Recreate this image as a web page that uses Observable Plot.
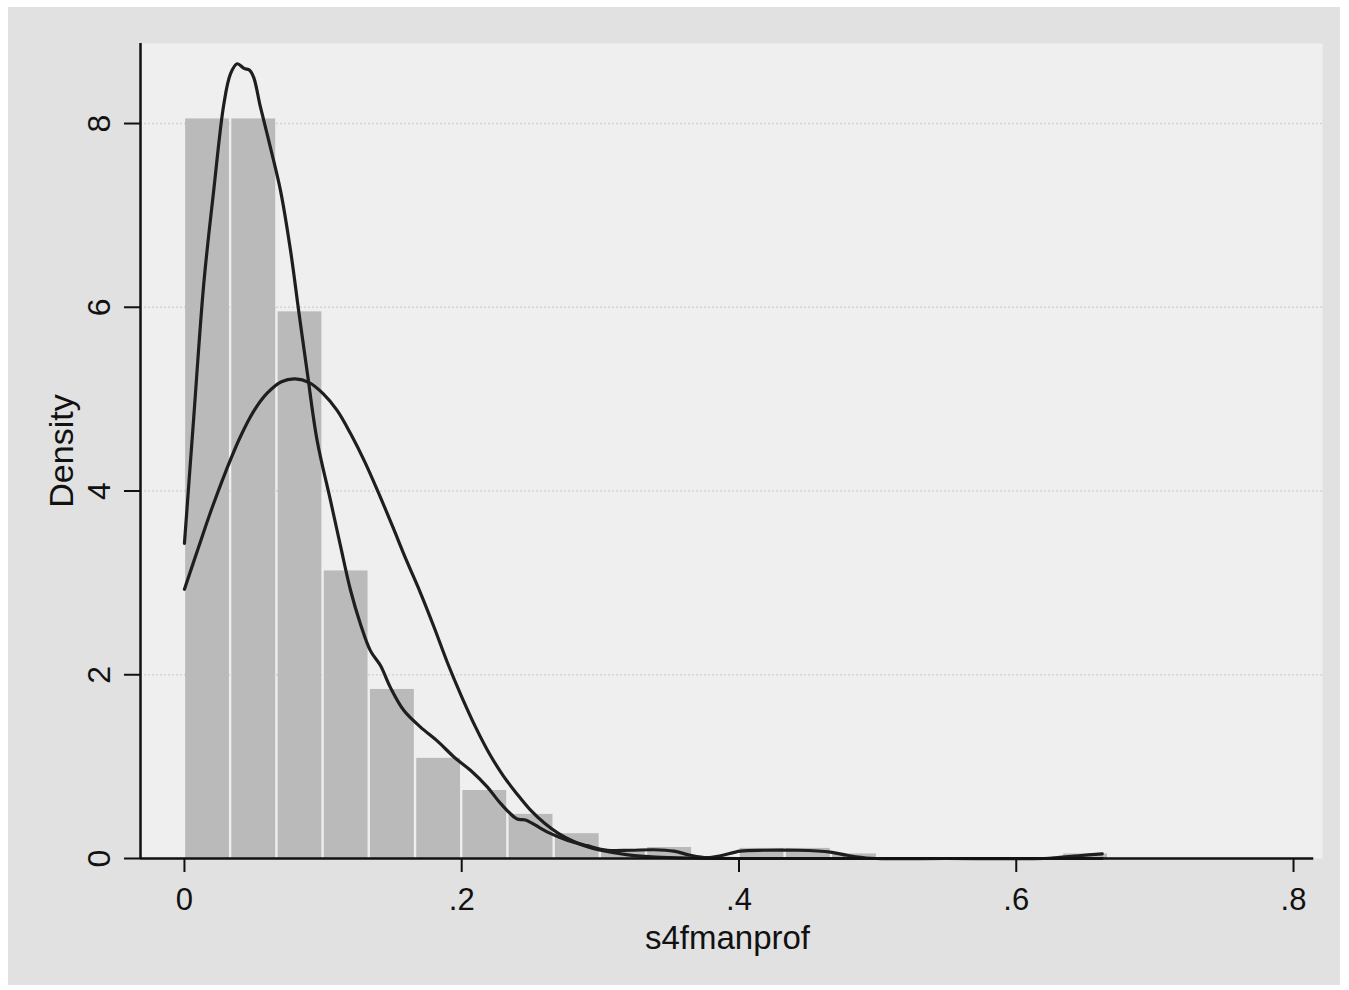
<!DOCTYPE html>
<html>
<head>
<meta charset="utf-8">
<script src="https://cdn.jsdelivr.net/npm/d3@7"></script>
<script src="https://cdn.jsdelivr.net/npm/@observablehq/plot@0.6"></script>
<style>
  html, body { margin: 0; padding: 0; background: #ffffff; }
  #outer { position: absolute; left: 8px; top: 7px; width: 1332px; height: 978px; background: #e1e1e1; }
  #chart { position: absolute; left: 0; top: 0; }
</style>
</head>
<body>
<div id="outer"></div>
<div id="chart"></div>
<script>
// Histogram bins (left edge, right edge, density)
const binStart = [0, 0.0333, 0.0667, 0.1, 0.1333, 0.1667, 0.2, 0.2333, 0.2667, 0.3, 0.3333, 0.4, 0.4333, 0.4667, 0.6333];
const binEnd   = [0.0333, 0.0667, 0.1, 0.1333, 0.1667, 0.2, 0.2333, 0.2667, 0.3, 0.3333, 0.3667, 0.4333, 0.4667, 0.5, 0.6667];
const binDensity = [8.05, 8.05, 5.95, 3.13, 1.84, 1.09, 0.74, 0.48, 0.27, 0.08, 0.12, 0.11, 0.11, 0.05, 0.05];

// Kernel density curve
const kernelX = [0, 0.0067, 0.0139, 0.0211, 0.0284, 0.0332, 0.038, 0.043, 0.047, 0.05, 0.0548, 0.062, 0.0693, 0.0765, 0.0825, 0.0885, 0.0957, 0.1053, 0.1126, 0.1198, 0.127, 0.1342, 0.1414, 0.1486, 0.1583, 0.1703, 0.1823, 0.1948, 0.2063, 0.2184, 0.228, 0.24, 0.246, 0.2615, 0.276, 0.2904, 0.305, 0.3218, 0.3386, 0.353, 0.365, 0.377, 0.3867, 0.401, 0.418, 0.442, 0.466, 0.478, 0.495, 0.55, 0.62, 0.63, 0.645, 0.662];
const kernelY = [3.43, 4.80, 6.25, 7.27, 8.21, 8.54, 8.65, 8.60, 8.58, 8.50, 8.18, 7.74, 7.27, 6.62, 5.95, 5.30, 4.55, 3.90, 3.40, 2.92, 2.55, 2.26, 2.10, 1.86, 1.61, 1.43, 1.28, 1.10, 0.96, 0.78, 0.60, 0.43, 0.42, 0.29, 0.20, 0.14, 0.09, 0.09, 0.095, 0.08, 0.035, 0.01, 0.03, 0.08, 0.09, 0.09, 0.07, 0.035, 0.003, 0, 0, 0.01, 0.03, 0.05];

// Normal density curve
const normalX = [0, 0.01, 0.02, 0.03, 0.04, 0.05, 0.06, 0.07, 0.08, 0.09, 0.10, 0.11, 0.12, 0.13, 0.14, 0.15, 0.16, 0.17, 0.18, 0.19, 0.20, 0.21, 0.22, 0.23, 0.24, 0.25, 0.26, 0.27, 0.28, 0.29, 0.30, 0.32, 0.34, 0.37, 0.40, 0.50, 0.662];
const normalY = [2.93, 3.38, 3.82, 4.22, 4.58, 4.87, 5.07, 5.19, 5.22, 5.18, 5.06, 4.88, 4.62, 4.32, 3.98, 3.62, 3.25, 2.90, 2.52, 2.12, 1.76, 1.43, 1.14, 0.90, 0.70, 0.52, 0.38, 0.27, 0.19, 0.13, 0.09, 0.04, 0.015, 0.004, 0, 0, 0];

// Axes
const xTicks = [0, 0.2, 0.4, 0.6, 0.8];
const xTickLabels = ["0", ".2", ".4", ".6", ".8"];
const yTicks = [0, 2, 4, 6, 8];
const yTickLabels = ["0", "2", "4", "6", "8"];
const xTitle = "s4fmanprof";
const yTitle = "Density";

const xMin = -0.0317, xAxisEnd = 0.8146, xMax = 0.8209;
const yMax = 8.871;

const bars = binStart.map((s, i) => ({x1: s, x2: binEnd[i], y: binDensity[i]}));
const kernel = kernelX.map((x, i) => ({x, y: kernelY[i]}));
const normal = normalX.map((x, i) => ({x, y: normalY[i]}));

const plot = Plot.plot({
  width: 1349,
  height: 990,
  marginLeft: 140,
  marginRight: 27,
  marginTop: 43,
  marginBottom: 132,
  style: {fontFamily: "'Liberation Sans', Arial, sans-serif", fontSize: "32px", background: "transparent", color: "#111"},
  x: {domain: [xMin, xMax], axis: null},
  y: {domain: [0, yMax], axis: null},
  marks: [
    Plot.frame({fill: "#efefef", stroke: null}),
    Plot.ruleY(yTicks.slice(1), {stroke: "#d4d4d4", strokeWidth: 1.5, strokeDasharray: "2,2"}),
    Plot.rectY(bars, {x1: "x1", x2: "x2", y: "y", fill: "#bababa", insetLeft: 1.2, insetRight: 1.2}),
    Plot.line(normal, {x: "x", y: "y", stroke: "#1e1e1e", strokeWidth: 3.2, curve: "catmull-rom"}),
    Plot.line(kernel, {x: "x", y: "y", stroke: "#1e1e1e", strokeWidth: 3.2, curve: "catmull-rom"}),
    Plot.ruleX([xMin], {y1: 0, y2: yMax, stroke: "#111", strokeWidth: 2.5}),
    Plot.ruleY([0], {x1: xMin, x2: xAxisEnd, stroke: "#111", strokeWidth: 2.5}),
    Plot.axisX(xTicks, {tickSize: 14, tickPadding: 15, strokeWidth: 2, fontSize: 31, label: null, tickFormat: (d) => xTickLabels[xTicks.indexOf(d)]}),
    Plot.axisY(yTicks, {tickSize: 16, tickPadding: 15, strokeWidth: 2, fontSize: 32, tickRotate: -90, label: null, tickFormat: (d) => yTickLabels[yTicks.indexOf(d)]}),
    Plot.text([xTitle], {frameAnchor: "bottom", dx: -4, dy: 90, fontSize: 33, text: d => d}),
    Plot.text([yTitle], {frameAnchor: "left", dx: -78, rotate: -90, textAnchor: "middle", fontSize: 34, text: d => d})
  ]
});
document.getElementById("chart").appendChild(plot);
</script>
</body>
</html>
